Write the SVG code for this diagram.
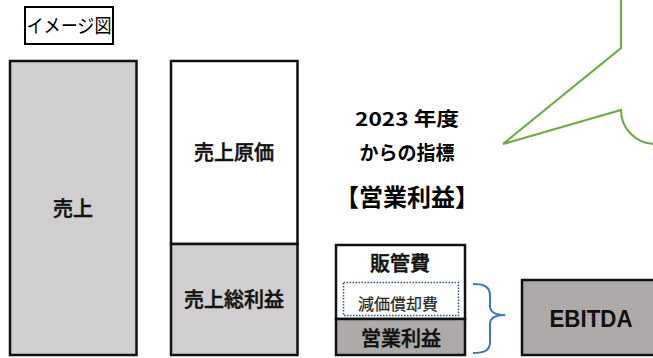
<svg xmlns="http://www.w3.org/2000/svg" width="653" height="358" viewBox="0 0 653 358">
<style>
.box{stroke:#111;stroke-width:2.5}
.light{fill:#d0cece}
.dark{fill:#aeaaaa}
.white{fill:#fff}
.lbl{font-family:"Noto Sans CJK JP","Noto Sans",sans-serif;font-weight:500;fill:#111;stroke:#111;stroke-width:0.5;text-anchor:middle}
.head{font-family:"Noto Sans CJK JP","Noto Sans",sans-serif;font-weight:700;fill:#000;text-anchor:middle}
</style>
<rect width="653" height="358" fill="#fff"/>
<g id="title">
<rect x="25" y="7" width="88" height="37" fill="#fff" stroke="#000" stroke-width="2"/>
<text x="69" y="33" font-family="'Noto Sans CJK JP',sans-serif" font-size="19" text-anchor="middle" fill="#000" textLength="85" lengthAdjust="spacingAndGlyphs">イメージ図</text>
</g>
<g id="sales">
<rect class="box light" x="10" y="61" width="126.5" height="294"/>
<text class="lbl" x="73" y="216" font-size="20">売上</text>
</g>
<g id="cogs">
<rect class="box white" x="171" y="61" width="126.5" height="183"/>
<text class="lbl" x="234" y="160" font-size="20">売上原価</text>
</g>
<g id="gross">
<rect class="box light" x="171" y="244" width="126.5" height="111"/>
<text class="lbl" x="234" y="307" font-size="20">売上総利益</text>
</g>
<g id="headline">
<text class="head" x="407" y="126" font-size="19" textLength="104" lengthAdjust="spacingAndGlyphs">2023 年度</text>
<text class="head" x="407" y="160" font-size="19">からの指標</text>
<text class="head" x="407" y="206" font-size="24">【営業利益】</text>
</g>
<g id="sga">
<rect class="box white" x="336" y="245" width="129" height="74"/>
<text class="lbl" x="400" y="271" font-size="20">販管費</text>
</g>
<g id="depr">
<rect x="343.5" y="282.5" width="115" height="33" fill="none" stroke="#2f5597" stroke-width="1.5" stroke-dasharray="1.5 1.5"/>
<text x="398" y="310" font-family="'Noto Sans CJK JP',sans-serif" font-size="16" text-anchor="middle" fill="#222" stroke="#222" stroke-width="0.2">減価償却費</text>
</g>
<g id="op">
<rect class="box dark" x="336" y="319" width="129" height="36"/>
<text class="lbl" x="401" y="346" font-size="20">営業利益</text>
</g>
<g id="ebitda">
<rect class="box dark" x="522" y="280" width="140" height="75"/>
<text x="591" y="327" font-family="'Liberation Sans',Arial,sans-serif" font-weight="700" font-size="23" text-anchor="middle" fill="#111" textLength="83" lengthAdjust="spacingAndGlyphs">EBITDA</text>
</g>
<g id="connectors" fill="none">
<path d="M473,284 C485,284 490,287 490,296 L490,306 C490,312 494,315 505,315 C494,315 490,318 490,324 L490,342 C490,350 485,353 473,353" stroke="#4472c4" stroke-width="2"/>
<path d="M621,0 L621,48 L503,144 L621,110 A34 34 0 0 0 655,144" stroke="#70ad47" stroke-width="2.2"/>
</g>
</svg>
